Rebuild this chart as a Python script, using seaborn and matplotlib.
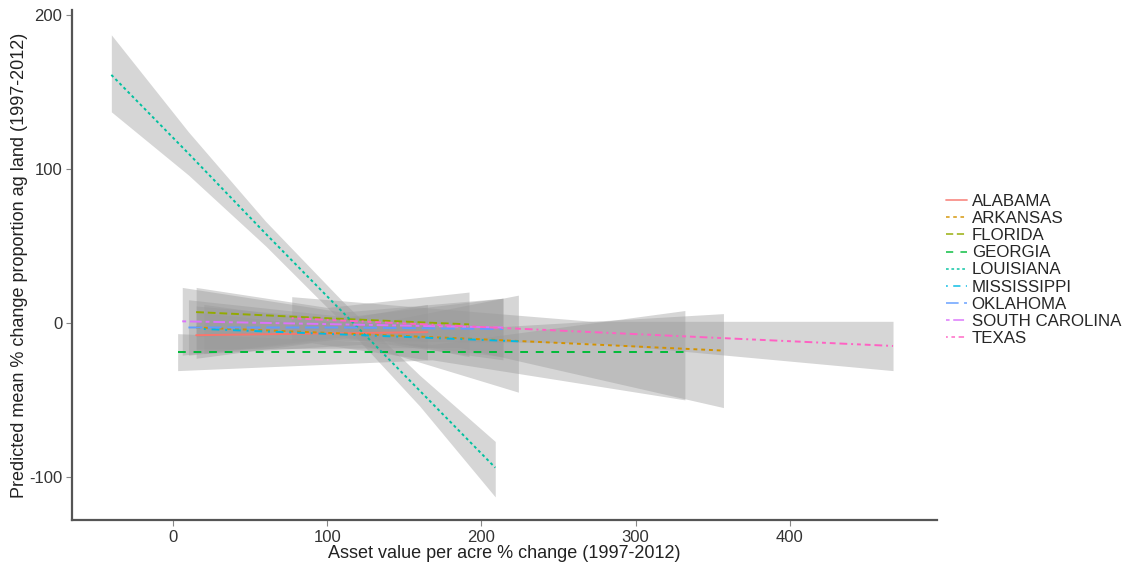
import matplotlib
matplotlib.use("Agg")
import matplotlib.pyplot as plt
from matplotlib.lines import Line2D
import pandas as pd
import seaborn as sns

# Fitted trend per state: x positions along each fit, fitted value and CI bounds
states = ["ALABAMA", "ARKANSAS", "FLORIDA", "GEORGIA", "LOUISIANA",
          "MISSISSIPPI", "OKLAHOMA", "SOUTH CAROLINA", "TEXAS"]

al_x, al_fit = [15, 90, 165], [-8, -7, -6]
al_lo, al_hi = [-23, -13, -24], [7, -1, 12]

ar_x, ar_fit = [15, 186, 357], [-3, -10, -18]
ar_lo, ar_hi = [-17, -16, -55], [11, -4, 6]

fl_x, fl_fit = [15, 100, 192], [7, 3, -1]
fl_lo, fl_hi = [-9, -4, -22], [23, 10, 20]

ga_x, ga_fit = [3, 168, 332], [-19, -19, -19]
ga_lo, ga_hi = [-31, -24, -50], [-7, -14, 8]

la_x = [-40, 10, 60, 110, 160, 209]
la_fit = [161, 110, 58, 7, -44, -94]
la_lo = [137, 96, 50, 0, -54, -113]
la_hi = [187, 124, 66, 14, -34, -77]

ms_x, ms_fit = [20, 122, 224], [-4, -8, -12]
ms_lo, ms_hi = [-20, -14, -45], [12, -2, 18]

ok_x, ok_fit = [10, 112, 214], [-3, -3, -4]
ok_lo, ok_hi = [-21, -10, -24], [15, 4, 16]

sc_x, sc_fit = [6, 110, 214], [1, -1, -3]
sc_lo, sc_hi = [-21, -9, -22], [23, 7, 16]

tx_x, tx_fit = [77, 272, 467], [3, -6, -15]
tx_lo, tx_hi = [-11, -13, -31], [17, 1, 1]

xs = [al_x, ar_x, fl_x, ga_x, la_x, ms_x, ok_x, sc_x, tx_x]
fits = [al_fit, ar_fit, fl_fit, ga_fit, la_fit, ms_fit, ok_fit, sc_fit, tx_fit]
los = [al_lo, ar_lo, fl_lo, ga_lo, la_lo, ms_lo, ok_lo, sc_lo, tx_lo]
his = [al_hi, ar_hi, fl_hi, ga_hi, la_hi, ms_hi, ok_hi, sc_hi, tx_hi]

colors = ["#F8766D", "#D39200", "#93AA00", "#00BA38", "#00C19F",
          "#00B9E3", "#619CFF", "#DB72FB", "#FF61C3"]
dash_styles = ["", (2, 2), (4, 2), (4, 4), (1.5, 1.5),
               (1, 3, 4, 3), (7, 3), (2, 2, 6, 2), (1, 2, 2, 2, 3, 2, 4, 2)]

x_ticks = [0, 100, 200, 300, 400]
y_ticks = [-100, 0, 100, 200]

rows = []
for st, x, f, lo, hi in zip(states, xs, fits, los, his):
    for xi, fi, li, hi_ in zip(x, f, lo, hi):
        rows.append({"state": st, "asset": xi, "pred": fi, "lo": li, "hi": hi_})
df = pd.DataFrame(rows)

sns.set_theme(style="white")
plt.rcParams["font.family"] = ["Liberation Sans", "DejaVu Sans"]
plt.rcParams["axes.unicode_minus"] = False

fig = plt.figure(figsize=(11.36, 5.65), dpi=100)
ax = fig.add_axes([0.0634, 0.0796, 0.7614, 0.9024])

# Confidence bands
for st in states:
    d = df[df["state"] == st]
    ax.fill_between(d["asset"], d["lo"], d["hi"], color="#999999", alpha=0.4,
                    linewidth=0, zorder=1)

palette = dict(zip(states, colors))
dashes = dict(zip(states, dash_styles))
sns.lineplot(data=df, x="asset", y="pred", hue="state", style="state",
             palette=palette, dashes=dashes, estimator=None, sort=True,
             linewidth=1.4, legend=False, ax=ax, zorder=3)

ax.set_xlim(-65.5, 495.5)
ax.set_ylim(-128, 203)
ax.set_xticks(x_ticks)
ax.set_yticks(y_ticks)
ax.set_xlabel("Asset value per acre % change (1997-2012)", fontsize=13,
              color="#222222", labelpad=0)
ax.set_ylabel("Predicted mean % change proportion ag land (1997-2012)", fontsize=13,
              color="#222222", labelpad=1)
ax.tick_params(axis="both", which="both", length=4, width=0.8, color="#888888",
               labelsize=12, labelcolor="#333333", pad=3,
               bottom=True, left=True)
for side in ["top", "right"]:
    ax.spines[side].set_visible(False)
for side in ["left", "bottom"]:
    ax.spines[side].set_color("#555555")
    ax.spines[side].set_linewidth(1.6)
ax.grid(False)

handles = [Line2D([0], [0], color=c, lw=1.3,
                  linestyle=(0, d) if d else "-", alpha=0.8)
           for c, d in zip(colors, dash_styles)]
fig.legend(handles, states, loc="upper left", bbox_to_anchor=(0.827, 0.668),
           frameon=False, fontsize=12.2, handlelength=1.2, handletextpad=0.3,
           labelspacing=0.12, borderaxespad=0)

fig.savefig("out.png", dpi=100)
